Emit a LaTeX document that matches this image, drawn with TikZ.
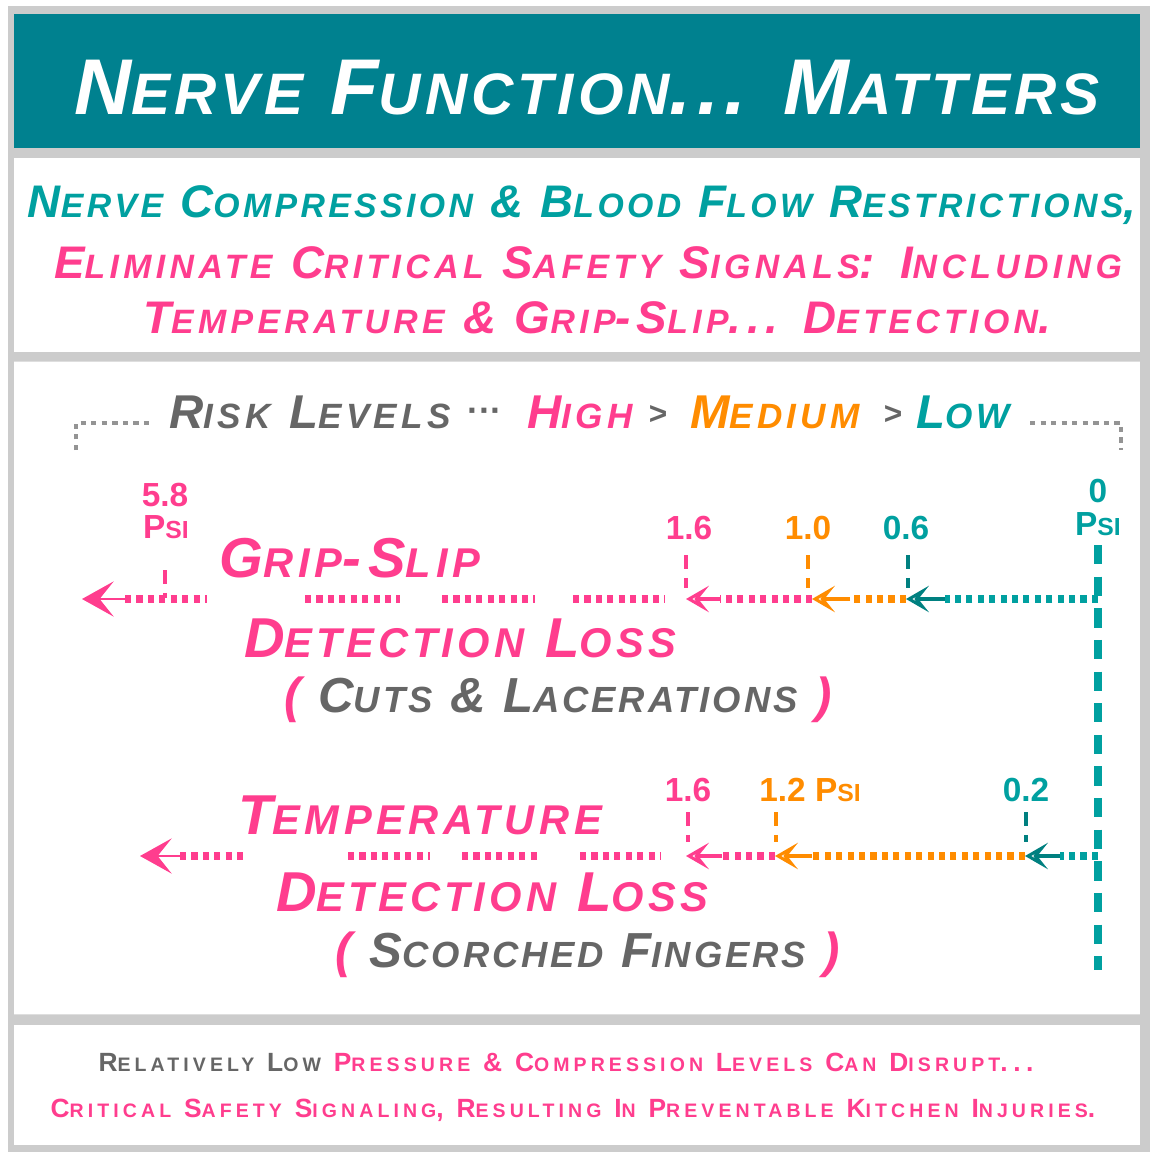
\documentclass[tikz,border=0pt]{standalone}
\usepackage{fontspec}
\usepackage{graphicx}
\setmainfont{Liberation Sans}
\usetikzlibrary{arrows.meta,shapes.misc,positioning}
\definecolor{teal1}{HTML}{00818F}
\definecolor{teal2}{HTML}{00A0A0}
\definecolor{pinky}{HTML}{FF3D8E}
\definecolor{ambery}{HTML}{FF8C00}
\definecolor{greyt}{HTML}{666666}
\definecolor{frame}{HTML}{CCCCCC}
\newcommand\sm[1]{\scalebox{0.74}{#1}}
\newcommand\capfont[2]{\bfseries\itshape\fontsize{#1}{#1}\selectfont\addfontfeatures{LetterSpace=#2}}
\begin{document}
\begin{tikzpicture}[x=0.02cm,y=-0.02cm,
		panel/.style={chamfered rectangle, chamfered rectangle xsep=8pt, chamfered rectangle ysep=8pt, inner sep=0pt, fill=white},
		level/.style={line width=4.5pt, dash pattern=on 3.5pt off 3pt},
		tick/.style={line width=2pt, dash pattern=on 8pt off 5pt},
		tip/.style={line width=2pt, -{Stealth[open, length=13pt, width=15pt, inset=6pt]}},
		num/.style={font=\bfseries\fontsize{19}{21}\selectfont},
		bracket/.style={greyt!70, line width=2.5pt, dash pattern=on 3pt off 3pt}]

	\useasboundingbox (0,0) rectangle (1154,1156);
	\fill[white] (0,0) rectangle (1154,1156);
	\fill[frame] (8,6) rectangle (1150,1152);

	% panels
	\node[panel, fill=teal1, minimum width=1126*0.569pt, minimum height=134*0.569pt] (title) at (577,81) {};
	\node[panel, minimum width=1126*0.569pt, minimum height=194*0.569pt] (head) at (577,255) {};
	\node[panel, minimum width=1126*0.569pt, minimum height=653*0.569pt] (chart) at (577,688) {};
	\node[panel, minimum width=1126*0.569pt, minimum height=120*0.569pt] (foot) at (577,1085) {};

	\node[white, font=\capfont{45}{7}] (ttl) at (587,88) {N\sm{ERVE} F\sm{UNCTION}... M\sm{ATTERS}};

	\node[teal2, font=\capfont{26}{10}] (h1) at (582,205) {N\sm{ERVE} C\sm{OMPRESSION} \& B\sm{LOOD} F\sm{LOW} R\sm{ESTRICTIONS},};
	\node[pinky, font=\capfont{26}{13}] (h2) at (588,263) {E\sm{LIMINATE} C\sm{RITICAL} S\sm{AFETY} S\sm{IGNALS}: I\sm{NCLUDING}};
	\node[pinky, font=\capfont{26}{13}] (h3) at (597,318) {T\sm{EMPERATURE} \& G\sm{RIP}-S\sm{LIP}... D\sm{ETECTION}.};

	% risk levels
	\node[greyt, font=\capfont{27}{12}] (risk) at (310,412) {R\sm{ISK} L\sm{EVELS}};
	\node[greyt, font=\bfseries\fontsize{20}{22}\selectfont] (dots) at (485,415) {···};
	\node[pinky, font=\capfont{27}{12}] (high) at (580,412) {H\sm{IGH}};
	\node[greyt, font=\bfseries\fontsize{18}{20}\selectfont] (gt1) at (658,415) {>};
	\node[ambery, font=\capfont{27}{12}] (med) at (775,412) {M\sm{EDIUM}};
	\node[greyt, font=\bfseries\fontsize{18}{20}\selectfont] (gt2) at (893,415) {>};
	\node[teal2, font=\capfont{27}{12}] (low) at (963,412) {L\sm{OW}};
	\coordinate (bl) at (76,450); \coordinate (br) at (1121,450);
	\draw[bracket] (bl) |- (152,423);
	\draw[bracket] (1030,423) -| (br);

	% grip-slip row
	\coordinate (z1) at (1098,599);
	\coordinate (a1) at (906,599); \coordinate (b1) at (812,599); \coordinate (c1) at (686,599);
	\draw[level, teal2] (z1) -- (945,599);
	\draw[tip, teal2!80!black] (945,599) -- (a1);
	\draw[level, ambery] (a1) -- (850,599);
	\draw[tip, ambery] (850,599) -- (b1);
	\draw[level, pinky] (b1) -- (720,599);
	\draw[tip, pinky] (720,599) -- (c1);
	\foreach \xa/\xb in {573/665, 442/535, 305/400, 125/207}
		{\draw[level, pinky] (\xa,599) -- (\xb,599);}
	\draw[pinky, line width=1.5pt, -{Stealth[length=18pt, width=20pt, inset=8pt]}] (128,599) -- (82,599);
	\draw[tick, pinky] (686,555) -- (686,588);
	\draw[tick, ambery] (808,555) -- (808,588);
	\draw[tick, teal2!80!black] (908,555) -- (908,588);
	\draw[tick, pinky] (165,570) -- (165,598);
	\node[num, pinky] (n16a) at (689,528) {1.6};
	\node[num, ambery] (n10) at (808,528) {1.0};
	\node[num, teal2] (n06) at (906,528) {0.6};
	\node[num, pinky] (n58) at (165,495) {5.8};
	\node[num, pinky] (p58) at (166,527) {P\sm{SI}};
	\node[num, teal2] (n0) at (1098,491) {0};
	\node[num, teal2] (p0) at (1098,524) {P\sm{SI}};
	\draw[teal2, line width=4.5pt, dash pattern=on 11pt off 7pt] (1098,545) -- (1098,970);

	\node[pinky, font=\capfont{32}{12}] (grip) at (350,558) {G\sm{RIP}-S\sm{LIP}};
	\node[pinky, font=\capfont{32}{10}] (det1) at (460,638) {D\sm{ETECTION} L\sm{OSS}};
	\node[greyt, font=\capfont{28}{8}] (cuts) at (558,700) {\textcolor{pinky}{(} C\sm{UTS} \& L\sm{ACERATIONS} \textcolor{pinky}{)}};

	% temperature row
	\coordinate (z2) at (1098,856);
	\coordinate (a2) at (1025,856); \coordinate (b2) at (775,856); \coordinate (c2) at (686,856);
	\draw[level, teal2] (z2) -- (1060,856);
	\draw[tip, teal2!80!black] (1060,856) -- (a2);
	\draw[level, ambery] (a2) -- (812,856);
	\draw[tip, ambery] (812,856) -- (b2);
	\draw[level, pinky] (b2) -- (722,856);
	\draw[tip, pinky] (722,856) -- (c2);
	\foreach \xa/\xb in {580/660, 462/540, 348/430, 180/247}
		{\draw[level, pinky] (\xa,856) -- (\xb,856);}
	\draw[pinky, -{Stealth[length=18pt, width=20pt, inset=8pt]}, line width=1.5pt] (185,856) -- (140,856);
	\draw[tick, pinky] (688,812) -- (688,842);
	\draw[tick, ambery] (776,812) -- (776,842);
	\draw[tick, teal2!80!black] (1026,812) -- (1026,842);
	\node[num, pinky] (n16b) at (688,790) {1.6};
	\node[num, ambery] (n12) at (810,790) {1.2 P\sm{SI}};
	\node[num, teal2] (n02) at (1026,790) {0.2};

	\node[pinky, font=\capfont{32}{11}] (temp) at (420,815) {T\sm{EMPERATURE}};
	\node[pinky, font=\capfont{32}{10}] (det2) at (492,892) {D\sm{ETECTION} L\sm{OSS}};
	\node[greyt, font=\capfont{28}{8}] (burn) at (588,955) {\textcolor{pinky}{(} S\sm{CORCHED} F\sm{INGERS} \textcolor{pinky}{)}};

	% footer
	\node[pinky, font=\capfont{15}{21}\upshape] (f1) at (566,1062) {\textcolor{greyt}{R\sm{ELATIVELY} L\sm{OW}} P\sm{RESSURE} \& C\sm{OMPRESSION} L\sm{EVELS} C\sm{AN} D\sm{ISRUPT}...};
	\node[pinky, font=\capfont{15}{21}\upshape] (f2) at (573,1110) {C\sm{RITICAL} S\sm{AFETY} S\sm{IGNALING}, R\sm{ESULTING} I\sm{N} P\sm{REVENTABLE} K\sm{ITCHEN} I\sm{NJURIES}.};
\end{tikzpicture}
\end{document}
